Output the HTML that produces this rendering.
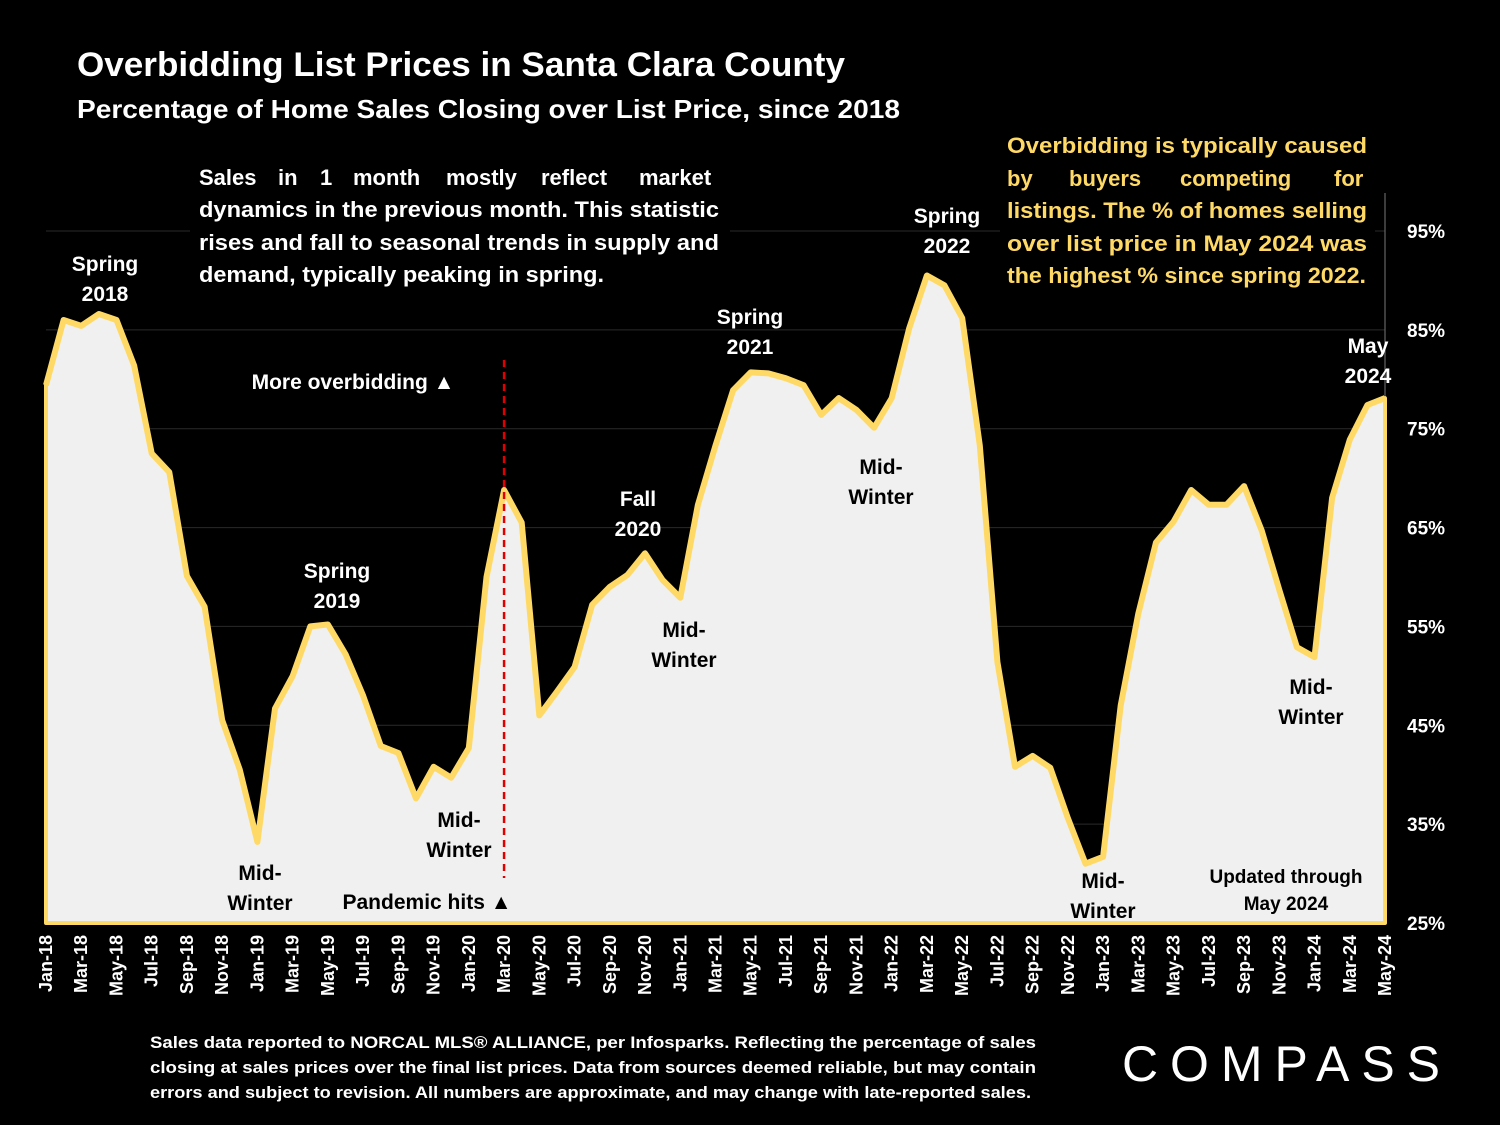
<!DOCTYPE html>
<html><head><meta charset="utf-8"><style>
body{margin:0;background:#000;width:1500px;height:1125px;position:relative;overflow:hidden;}
svg{position:absolute;left:0;top:0;}
svg text{font-family:"Liberation Sans",Arial,sans-serif;font-weight:bold;}
</style></head><body>
<svg width="1500" height="1125" viewBox="0 0 1500 1125" xmlns="http://www.w3.org/2000/svg">
<rect width="1500" height="1125" fill="#000"/>
<text x="77" y="76" fill="#fff" font-size="34" textLength="768" lengthAdjust="spacingAndGlyphs">Overbidding List Prices in Santa Clara County</text>
<text x="77" y="118" fill="#fff" font-size="26" textLength="823" lengthAdjust="spacingAndGlyphs">Percentage of Home Sales Closing over List Price, since 2018</text>
<g id="grid"></g>
<g id="plot"></g>
<g id="labels" fill="#000" font-size="21" text-anchor="middle">
<g fill="#fff">
<text x="105" y="271">Spring</text><text x="105" y="301">2018</text>
<text x="337" y="578">Spring</text><text x="337" y="608">2019</text>
<text x="353" y="389">More overbidding ▲</text>
<text x="638" y="506">Fall</text><text x="638" y="536">2020</text>
<text x="750" y="324">Spring</text><text x="750" y="354">2021</text>
<text x="947" y="223">Spring</text><text x="947" y="253">2022</text>
<text x="1368" y="353">May</text><text x="1368" y="383">2024</text>
</g>
<text x="260" y="880">Mid-</text><text x="260" y="910">Winter</text>
<text x="459" y="827">Mid-</text><text x="459" y="857">Winter</text>
<text x="427" y="909">Pandemic hits ▲</text>
<text x="684" y="637">Mid-</text><text x="684" y="667">Winter</text>
<text x="881" y="474">Mid-</text><text x="881" y="504">Winter</text>
<text x="1103" y="888">Mid-</text><text x="1103" y="918">Winter</text>
<text x="1212" y="445">June-Oct.</text><text x="1212" y="475">2023</text>
<text x="1311" y="694">Mid-</text><text x="1311" y="724">Winter</text>
<text x="1286" y="883" font-size="19">Updated through</text><text x="1286" y="910" font-size="19">May 2024</text>
</g>
<g fill="#fff" font-size="22">
<rect x="190" y="150" width="540" height="142" fill="#000"/>
<text y="185"><tspan x="199">Sales</tspan><tspan x="278">in</tspan><tspan x="320">1</tspan><tspan x="353">month</tspan><tspan x="446">mostly</tspan><tspan x="541">reflect</tspan><tspan x="639">market</tspan></text>
<text x="199" y="217" textLength="520" lengthAdjust="spacingAndGlyphs">dynamics in the previous month. This statistic</text>
<text x="199" y="250" textLength="520" lengthAdjust="spacingAndGlyphs">rises and fall to seasonal trends in supply and</text>
<text x="199" y="282" textLength="405" lengthAdjust="spacingAndGlyphs">demand, typically peaking in spring.</text>
</g>
<g fill="#ffd966" font-size="22">
<rect x="1000" y="125" width="375" height="170" fill="#000"/>
<text x="1007" y="153" textLength="360" lengthAdjust="spacingAndGlyphs">Overbidding is typically caused</text>
<text y="186"><tspan x="1007">by</tspan><tspan x="1069">buyers</tspan><tspan x="1180">competing</tspan><tspan x="1334">for</tspan></text>
<text x="1007" y="218" textLength="360" lengthAdjust="spacingAndGlyphs">listings. The % of homes selling</text>
<text x="1007" y="251" textLength="360" lengthAdjust="spacingAndGlyphs">over list price in May 2024 was</text>
<text x="1007" y="283" textLength="359" lengthAdjust="spacingAndGlyphs">the highest % since spring 2022.</text>
</g>
<g fill="#fff" font-size="17">
<text x="150" y="1048" textLength="886" lengthAdjust="spacingAndGlyphs">Sales data reported to NORCAL MLS® ALLIANCE, per Infosparks. Reflecting the percentage of sales</text>
<text x="150" y="1073" textLength="886" lengthAdjust="spacingAndGlyphs">closing at sales prices over the final list prices. Data from sources deemed reliable, but may contain</text>
<text x="150" y="1098" textLength="881" lengthAdjust="spacingAndGlyphs">errors and subject to revision. All numbers are approximate, and may change with late-reported sales.</text>
</g>
<text x="1122" y="1081" fill="#fff" font-size="50" style="font-weight:normal" textLength="318" lengthAdjust="spacing">COMPASS</text>
<g id="xaxis" fill="#fff" font-size="18"></g>
<g id="yaxis" fill="#fff" font-size="19"></g>
</svg>
<script>
const months=["Jan","Feb","Mar","Apr","May","Jun","Jul","Aug","Sep","Oct","Nov","Dec"];
const categories=[];
for(let y=18;y<=24;y++)for(let m=0;m<12;m++){if(y===24&&m>4)break;categories.push(months[m]+"-"+y);}
const values=[79.4,86,85.4,86.6,86,81.4,72.5,70.6,60.1,57,45.5,40.5,
33.2,46.7,50,55,55.2,52.2,48,42.9,42.2,37.6,40.8,39.7,
42.7,60,68.8,65.5,46,48.4,50.9,57.2,59,60.2,62.4,59.7,
57.9,67.3,73.3,78.9,80.7,80.6,80.1,79.4,76.4,78.1,76.9,75.1,
78.1,85.2,90.5,89.5,86.2,73.3,51.4,40.8,41.9,40.7,35.6,31,
31.7,47,56.3,63.5,65.6,68.8,67.3,67.3,69.2,64.7,58.7,52.9,
51.9,68,73.9,77.4,78.1];
const yTicks=[25,35,45,55,65,75,85,95];
const pandemicIndex=26;
const NS="http://www.w3.org/2000/svg";
const x0=46,x1=1385,yb=923,yt=231;
const xs=i=>x0+i*(x1-x0)/(categories.length-1);
const ys=v=>yb-(v-25)*(yb-yt)/70;
const grid=document.getElementById('grid'),plot=document.getElementById('plot');
function mk(t,a,p){const e=document.createElementNS(NS,t);for(const k in a)e.setAttribute(k,a[k]);p.appendChild(e);return e;}
yTicks.forEach(v=>{if(v===25)return;const l=mk('line',{x1:x0,x2:x1,y1:ys(v),y2:ys(v),stroke:'#2a2a2a','stroke-width':1},grid);

});
const ax=mk('line',{x1:x1,x2:x1,y1:193,y2:yb,stroke:'#777','stroke-width':1},grid);


let d="M"+x0+","+yb;values.forEach((v,i)=>d+=" L"+xs(i).toFixed(1)+","+ys(v).toFixed(1));d+=" L"+x1+","+yb+" Z";
const area=mk('path',{d:d,fill:'#f0f0f0',stroke:'#ffd966','stroke-width':4,'stroke-linejoin':'round'},plot);


let ld="";values.forEach((v,i)=>ld+=(i?" L":"M")+xs(i).toFixed(1)+","+ys(v).toFixed(1));
const line=mk('path',{d:ld,fill:'none',stroke:'#ffd966','stroke-width':6,'stroke-linejoin':'round'},plot);


const pd=mk('line',{x1:xs(pandemicIndex),x2:xs(pandemicIndex),y1:360,y2:878,stroke:'#e00000','stroke-width':2.5,'stroke-dasharray':'7,5'},plot);


const xa=document.getElementById('xaxis');
categories.forEach((c,i)=>{if(i%2)return;const t=mk('text',{transform:`translate(${xs(i)+6},935) rotate(-90)`,'text-anchor':'end'},xa);t.textContent=c;

});
const ya=document.getElementById('yaxis');
yTicks.forEach(v=>{const t=mk('text',{x:1407,y:ys(v)+7},ya);t.textContent=v+"%";

});
</script>
</body></html>
